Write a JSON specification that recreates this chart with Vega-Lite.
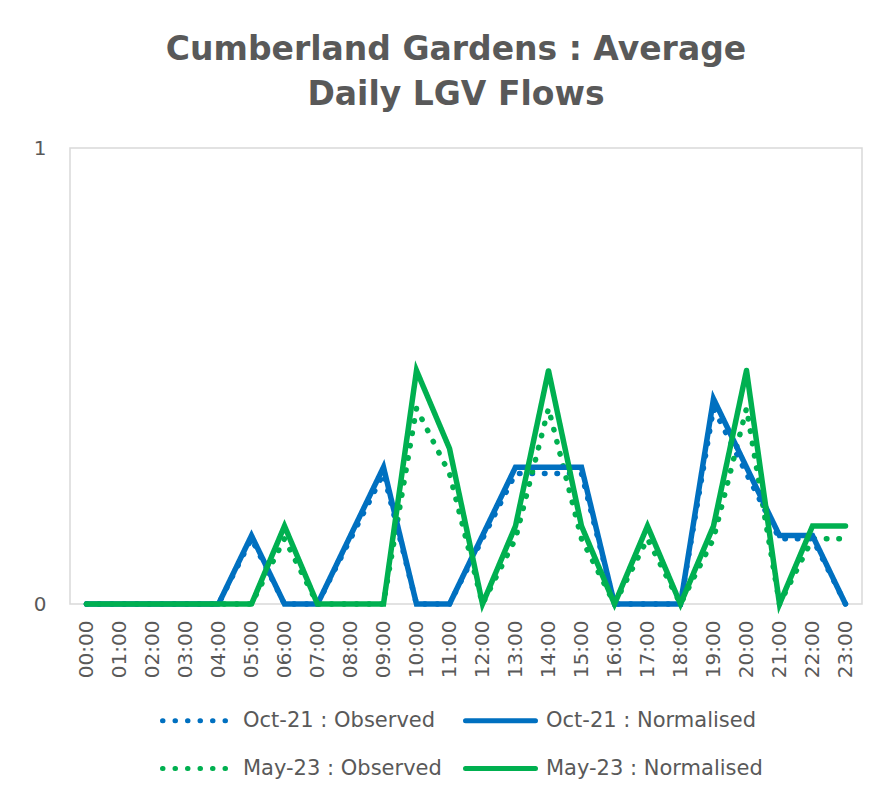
{
  "$schema": "https://vega.github.io/schema/vega-lite/v6.json",
  "width": 792,
  "height": 456,
  "autosize": {"type": "none"},
  "padding": {"left": 70, "top": 148, "right": 34, "bottom": 194},
  "background": "white",
  "title": {
    "text": ["Cumberland Gardens : Average", "Daily LGV Flows"],
    "font": "DejaVu Sans",
    "fontSize": 33,
    "fontWeight": "bold",
    "color": "#595959",
    "lineHeight": 45,
    "anchor": "middle",
    "baseline": "bottom",
    "offset": -7,
    "dx": -10
  },
  "config": {
    "view": {"stroke": "#D9D9D9", "strokeWidth": 1.5},
    "axis": {"labelFont": "DejaVu Sans", "labelColor": "#595959", "labelFontSize": 20, "grid": false, "domain": false, "ticks": false, "title": null}
  },
  "data": {
    "values": [
      {"hour": "00:00", "Oct-21 : Observed": 0, "Oct-21 : Normalised": 0, "May-23 : Observed": 0, "May-23 : Normalised": 0},
      {"hour": "01:00", "Oct-21 : Observed": 0, "Oct-21 : Normalised": 0, "May-23 : Observed": 0, "May-23 : Normalised": 0},
      {"hour": "02:00", "Oct-21 : Observed": 0, "Oct-21 : Normalised": 0, "May-23 : Observed": 0, "May-23 : Normalised": 0},
      {"hour": "03:00", "Oct-21 : Observed": 0, "Oct-21 : Normalised": 0, "May-23 : Observed": 0, "May-23 : Normalised": 0},
      {"hour": "04:00", "Oct-21 : Observed": 0, "Oct-21 : Normalised": 0, "May-23 : Observed": 0, "May-23 : Normalised": 0},
      {"hour": "05:00", "Oct-21 : Observed": 0.143, "Oct-21 : Normalised": 0.15, "May-23 : Observed": 0, "May-23 : Normalised": 0},
      {"hour": "06:00", "Oct-21 : Observed": 0, "Oct-21 : Normalised": 0, "May-23 : Observed": 0.143, "May-23 : Normalised": 0.171},
      {"hour": "07:00", "Oct-21 : Observed": 0, "Oct-21 : Normalised": 0, "May-23 : Observed": 0, "May-23 : Normalised": 0},
      {"hour": "08:00", "Oct-21 : Observed": 0.143, "Oct-21 : Normalised": 0.15, "May-23 : Observed": 0, "May-23 : Normalised": 0},
      {"hour": "09:00", "Oct-21 : Observed": 0.286, "Oct-21 : Normalised": 0.3, "May-23 : Observed": 0, "May-23 : Normalised": 0},
      {"hour": "10:00", "Oct-21 : Observed": 0, "Oct-21 : Normalised": 0, "May-23 : Observed": 0.429, "May-23 : Normalised": 0.512},
      {"hour": "11:00", "Oct-21 : Observed": 0, "Oct-21 : Normalised": 0, "May-23 : Observed": 0.286, "May-23 : Normalised": 0.341},
      {"hour": "12:00", "Oct-21 : Observed": 0.143, "Oct-21 : Normalised": 0.15, "May-23 : Observed": 0, "May-23 : Normalised": 0},
      {"hour": "13:00", "Oct-21 : Observed": 0.286, "Oct-21 : Normalised": 0.3, "May-23 : Observed": 0.143, "May-23 : Normalised": 0.171},
      {"hour": "14:00", "Oct-21 : Observed": 0.286, "Oct-21 : Normalised": 0.3, "May-23 : Observed": 0.429, "May-23 : Normalised": 0.512},
      {"hour": "15:00", "Oct-21 : Observed": 0.286, "Oct-21 : Normalised": 0.3, "May-23 : Observed": 0.143, "May-23 : Normalised": 0.171},
      {"hour": "16:00", "Oct-21 : Observed": 0, "Oct-21 : Normalised": 0, "May-23 : Observed": 0, "May-23 : Normalised": 0},
      {"hour": "17:00", "Oct-21 : Observed": 0, "Oct-21 : Normalised": 0, "May-23 : Observed": 0.143, "May-23 : Normalised": 0.171},
      {"hour": "18:00", "Oct-21 : Observed": 0, "Oct-21 : Normalised": 0, "May-23 : Observed": 0, "May-23 : Normalised": 0},
      {"hour": "19:00", "Oct-21 : Observed": 0.429, "Oct-21 : Normalised": 0.45, "May-23 : Observed": 0.143, "May-23 : Normalised": 0.171},
      {"hour": "20:00", "Oct-21 : Observed": 0.286, "Oct-21 : Normalised": 0.3, "May-23 : Observed": 0.429, "May-23 : Normalised": 0.512},
      {"hour": "21:00", "Oct-21 : Observed": 0.143, "Oct-21 : Normalised": 0.15, "May-23 : Observed": 0, "May-23 : Normalised": 0},
      {"hour": "22:00", "Oct-21 : Observed": 0.143, "Oct-21 : Normalised": 0.15, "May-23 : Observed": 0.143, "May-23 : Normalised": 0.171},
      {"hour": "23:00", "Oct-21 : Observed": 0, "Oct-21 : Normalised": 0, "May-23 : Observed": 0.143, "May-23 : Normalised": 0.171}
    ]
  },
  "transform": [
    {"fold": ["Oct-21 : Observed", "Oct-21 : Normalised", "May-23 : Observed", "May-23 : Normalised"], "as": ["series", "value"]}
  ],
  "encoding": {
    "x": {
      "field": "hour",
      "type": "ordinal",
      "scale": {"type": "point", "padding": 0.5},
      "axis": {"labelAngle": 270, "labelPadding": 16}
    },
    "y": {
      "field": "value",
      "type": "quantitative",
      "scale": {"domain": [0, 1], "nice": false},
      "axis": {"values": [0, 1], "format": "d", "labelPadding": 24}
    },
    "color": {
      "field": "series",
      "type": "nominal",
      "scale": {
        "domain": ["Oct-21 : Observed", "May-23 : Observed", "Oct-21 : Normalised", "May-23 : Normalised"],
        "range": ["#0070C0", "#00B050", "#0070C0", "#00B050"]
      },
      "legend": {
        "orient": "none",
        "legendX": 90,
        "legendY": 535,
        "columns": 2,
        "title": null,
        "labelFont": "DejaVu Sans",
        "labelFontSize": 21,
        "labelColor": "#595959",
        "labelOffset": 8,
        "labelLimit": 400,
        "symbolType": "stroke",
        "symbolSize": 4900,
        "symbolStrokeWidth": 5,
        "columnPadding": 13,
        "rowPadding": -27,
        "encode": {"symbols": {"update": {"strokeCap": {"value": "round"}}}}
      }
    },
    "strokeDash": {
      "field": "series",
      "type": "nominal",
      "scale": {
        "domain": ["Oct-21 : Observed", "May-23 : Observed", "Oct-21 : Normalised", "May-23 : Normalised"],
        "range": [[0.5, 12], [0.5, 12], [1, 0], [1, 0]]
      }
    }
  },
  "layer": [
    {"transform": [{"filter": "datum.series === 'Oct-21 : Observed'"}], "mark": {"type": "line", "strokeWidth": 5.5, "strokeCap": "round"}},
    {"transform": [{"filter": "datum.series === 'May-23 : Observed'"}], "mark": {"type": "line", "strokeWidth": 5.5, "strokeCap": "round"}},
    {"transform": [{"filter": "datum.series === 'Oct-21 : Normalised'"}], "mark": {"type": "line", "strokeWidth": 5.5, "strokeCap": "round"}},
    {"transform": [{"filter": "datum.series === 'May-23 : Normalised'"}], "mark": {"type": "line", "strokeWidth": 5.5, "strokeCap": "round"}}
  ]
}
